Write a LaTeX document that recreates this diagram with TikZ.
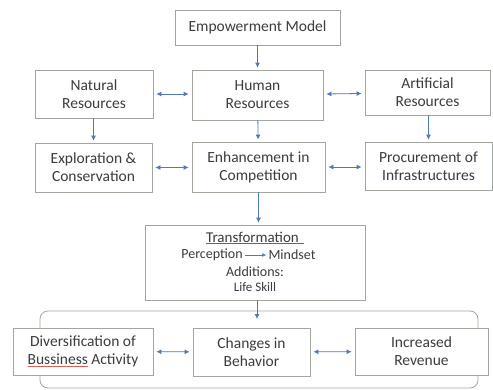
\documentclass[tikz,border=0pt]{standalone}
\usepackage{fontspec}
\setmainfont{Carlito}
\usepackage{xcolor}
\usepackage{tikz}
\usetikzlibrary{arrows.meta, positioning, backgrounds}
\definecolor{arrblue}{RGB}{79,121,178}
\definecolor{boxgray}{RGB}{160,168,158}
\definecolor{txtgray}{RGB}{60,60,60}
\definecolor{linkblue}{RGB}{70,100,190}
\definecolor{spellred}{RGB}{225,90,90}

\begin{document}
\begin{tikzpicture}[
    x=1pt, y=-1pt,
    box/.style={
      rectangle, draw=boxgray, thick, fill=white,
      font=\fontsize{15.5}{18}\selectfont, text=txtgray,
      align=center, inner sep=2pt
    },
    txt/.style={font=\fontsize{14}{16}\selectfont, text=txtgray, inner sep=1pt},
    arr/.style={-{Latex[length=5pt,width=5pt]}, thick, arrblue, shorten >=2pt},
    darr/.style={{Latex[length=5pt,width=5pt]}-{Latex[length=5pt,width=5pt]},
                 thick, arrblue, shorten >=3pt, shorten <=3pt},
    grp/.style={draw=boxgray, thick, rounded corners=8pt}
  ]
    \useasboundingbox (0,0) rectangle (493,389);

    % Row 1 — Model
    \node[box, minimum width=165pt, minimum height=35pt] (emp) at (257.5,27.5) {Empowerment Model};

    % Row 2 — Resources
    \node[box, minimum width=118pt, minimum height=48pt] (nat) at (94,94)    {Natural\\Resources};
    \node[box, minimum width=131pt, minimum height=50pt] (hum) at (257.5,95) {Human\\Resources};
    \node[box, minimum width=125pt, minimum height=45pt] (art) at (427.5,92.5) {Artificial\\Resources};

    % Row 3 — Actions
    \node[box, minimum width=117pt, minimum height=49pt] (exp) at (93.5,167.5) {Exploration \&\\Conservation};
    \node[box, minimum width=133pt, minimum height=50pt] (enh) at (258.5,167)  {Enhancement in\\Competition};
    \node[box, minimum width=127pt, minimum height=48pt] (pro) at (428.5,166)  {Procurement of\\Infrastructures};

    % Row 4 — Transformation
    \node[box, minimum width=220pt, minimum height=75pt] (tra) at (255,262.5) {};
    \node[txt, font=\fontsize{15}{17}\selectfont] (tit) at (255,238)
      {{\color{linkblue}\underline{\color{txtgray}Transformation\,\,}}};
    \node[txt] (perc) at (212,255) {Perception};
    \node[txt] (mind) at (292,255) {Mindset};
    \node[txt] (addi) at (255,272) {Additions:};
    \node[txt, font=\fontsize{13}{15}\selectfont] (life) at (255,287) {Life Skill};
    \coordinate (brk) at (257,319);

    % Row 5 — Outcomes
    \node[box, minimum width=140pt, minimum height=47pt] (div) at (83,351.5)
      {Diversification of\\{\color{spellred}\underline{\color{txtgray}Bussiness}} Activity};
    \node[box, minimum width=117pt, minimum height=48pt] (chg) at (251.5,352) {Changes in\\Behavior};
    \node[box, minimum width=133pt, minimum height=47pt] (inc) at (421.5,351.5) {Increased\\Revenue};

    % Arrows — downward flow
    \draw[arr] (emp) -- (hum);
    \draw[arr] (hum) -- (enh);
    \draw[arr] (nat.south -| exp.north) -- (exp);
    \draw[arr] (art.south -| pro.north) -- (pro);
    \draw[arr] (enh) -- (tra.north -| enh.south);
    \draw[arr, shorten >=0pt] (tra.south -| brk) -- (brk);
    \draw[arr, shorten >=1pt, shorten <=1pt, -{Latex[length=4pt,width=4pt]}] (perc) -- (mind);

    % Arrows — two-way links
    \draw[darr] (nat) -- (nat -| hum.west);
    \draw[darr] (hum) -- (art);
    \draw[darr] (exp) -- (exp -| enh.west);
    \draw[darr] (enh) -- (enh -| pro.west);
    \draw[darr] (div) -- (chg);
    \draw[darr] (chg) -- (inc);

    % Grouping bracket
    \begin{scope}[on background layer]
      \draw[grp] (40,311) rectangle (478,388);
    \end{scope}

  \end{tikzpicture}
\end{document}
